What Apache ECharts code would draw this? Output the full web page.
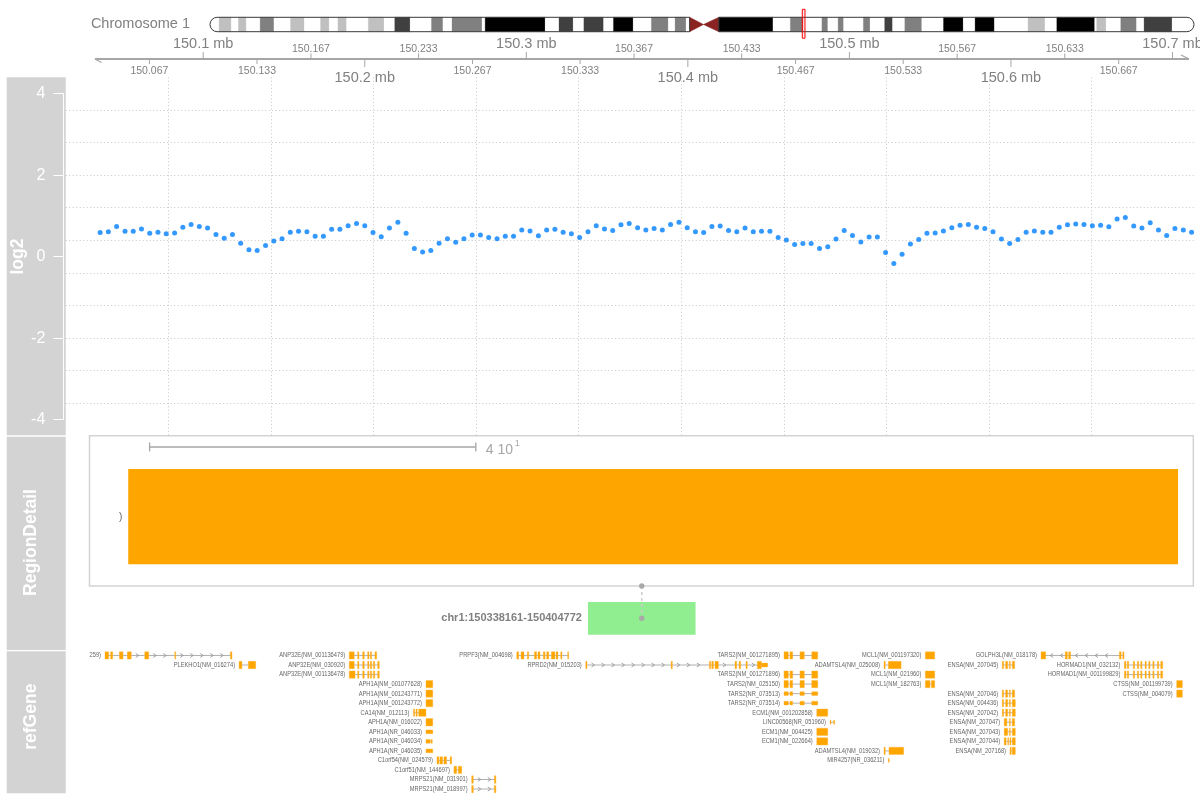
<!DOCTYPE html>
<html><head><meta charset="utf-8">
<script src="https://cdn.jsdelivr.net/npm/echarts@6.0.0/dist/echarts.min.js"></script>
<style>html,body{margin:0;padding:0;background:#fff}#c{width:1200px;height:800px}</style>
</head><body><div id="c"></div>
<script>
var FF = '"Liberation Sans", Arial, sans-serif';

// ---------- ideogram (chr1, Mb) ----------
var CHR_NAME = 'Chromosome 1';
var CHR_LEN = 249.250621;
var BAND_START = [0,2.3,5.4,7.2,9.2,12.7,16.2,20.4,23.9,28.0,30.2,32.4,34.6,40.1,44.1,46.8,50.7,56.1,59.0,61.3,68.9,69.7,84.9,88.4,92.0,94.7,99.7,102.2,107.2,111.8,116.1,117.8,120.6,121.5,125.0,128.9,142.6,147.0,150.3,155.0,156.5,159.1,160.5,165.5,167.2,170.9,172.9,176.0,180.3,185.8,190.8,193.8,198.7,207.2,211.5,214.5,224.1,224.6,227.0,230.7,234.7,236.6,243.7];
var BAND_STAIN = ['gneg','gpos25','gneg','gpos25','gneg','gpos50','gneg','gpos25','gneg','gpos25','gneg','gpos25','gneg','gpos25','gneg','gpos75','gneg','gpos50','gneg','gpos50','gneg','gpos100','gneg','gpos75','gneg','gpos75','gneg','gpos100','gneg','gpos50','gneg','gpos50','gneg','acen','acen','gvar','gneg','gpos50','gneg','gpos50','gneg','gpos50','gneg','gpos50','gneg','gpos75','gneg','gpos50','gneg','gpos100','gneg','gpos100','gneg','gpos25','gneg','gpos100','gneg','gpos25','gneg','gpos50','gneg','gpos75','gneg'];
var STAIN_COLOR = {gneg:'#ffffff', gpos25:'#c0c0c0', gpos50:'#808080', gpos75:'#404040', gpos100:'#000000', gvar:'#000000', acen:'#8b2323'};

// ---------- genome axis (Mb) ----------
var VIEW_START = 150.0330, VIEW_END = 150.7102;
var TICK_POS = [150.0667,150.1,150.1333,150.1667,150.2,150.2333,150.2667,150.3,150.3333,150.3667,150.4,150.4333,150.4667,150.5,150.5333,150.5667,150.6,150.6333,150.6667,150.7];
var TICK_LABELS = ['150.067','150.1 mb','150.133','150.167','150.2 mb','150.233','150.267','150.3 mb','150.333','150.367','150.4 mb','150.433','150.467','150.5 mb','150.533','150.567','150.6 mb','150.633','150.667','150.7 mb'];

// ---------- data track (log2) ----------
var Y_TICKS_MIN = -4, Y_TICKS_MAX = 4, Y_TICK_STEP = 2;
var POS_MB = [150.0362,150.0413,150.0464,150.0516,150.0567,150.0618,150.0669,150.0720,150.0771,150.0823,
150.0874,150.0925,150.0976,150.1027,150.1079,150.1130,150.1181,150.1232,150.1283,150.1334,
150.1386,150.1437,150.1488,150.1539,150.1590,150.1642,150.1693,150.1744,150.1795,150.1846,
150.1897,150.1949,150.2000,150.2051,150.2102,150.2153,150.2205,150.2256,150.2307,150.2358,
150.2409,150.2460,150.2512,150.2563,150.2614,150.2665,150.2716,150.2767,150.2819,150.2870,
150.2921,150.2972,150.3023,150.3075,150.3126,150.3177,150.3228,150.3279,150.3330,150.3382,
150.3433,150.3484,150.3535,150.3586,150.3637,150.3689,150.3740,150.3791,150.3842,150.3893,
150.3945,150.3996,150.4047,150.4098,150.4149,150.4200,150.4252,150.4303,150.4354,150.4405,
150.4456,150.4508,150.4559,150.4610,150.4661,150.4712,150.4763,150.4815,150.4866,150.4917,
150.4968,150.5019,150.5071,150.5122,150.5173,150.5224,150.5275,150.5326,150.5378,150.5429,
150.5480,150.5531,150.5582,150.5634,150.5685,150.5736,150.5787,150.5838,150.5889,150.5941,
150.5992,150.6043,150.6094,150.6145,150.6197,150.6248,150.6299,150.6350,150.6401,150.6452,
150.6504,150.6555,150.6606,150.6657,150.6708,150.6760,150.6811,150.6862,150.6913,150.6964,
150.7015,150.7067,150.7118];
var LOG2 = [0.59,0.61,0.74,0.62,0.62,0.68,0.57,0.60,0.56,0.58,
0.72,0.79,0.74,0.70,0.54,0.45,0.54,0.33,0.17,0.15,
0.27,0.38,0.44,0.60,0.62,0.61,0.50,0.50,0.67,0.67,
0.76,0.81,0.76,0.59,0.49,0.70,0.84,0.57,0.20,0.11,
0.15,0.33,0.44,0.35,0.44,0.53,0.53,0.47,0.44,0.50,
0.50,0.65,0.63,0.51,0.65,0.67,0.60,0.56,0.47,0.61,
0.76,0.68,0.64,0.78,0.81,
0.71,0.65,0.69,0.65,0.79,0.84,0.71,0.61,0.59,0.74,
0.75,0.64,0.61,0.70,0.61,0.62,0.62,0.47,0.41,0.30,
0.32,0.32,0.20,0.24,0.43,0.64,0.52,0.36,0.48,0.48,
0.10,-0.17,0.06,0.31,0.42,0.57,0.58,0.63,0.71,0.77,
0.79,0.72,0.69,0.61,0.43,0.32,0.42,0.60,0.63,0.60,
0.60,0.72,0.78,0.80,0.79,0.76,0.77,0.73,0.92,0.96,
0.75,0.70,0.83,0.65,0.52,0.69,0.65,0.60];

// ---------- region detail ----------
var DETAIL_RANGE = [0, 135.35];
var DETAIL_FEATURE = [4.75, 133.48];
var DETAIL_LABEL = ')';
var SCALE_BAR = [7.37, 47.37];
var SCALE_LABEL = ['4 10', '1'];
var REGION_BP = [150338161, 150404772];

// ---------- refGene (kb) ----------
var GENE_LABELS = ['VPS45(NM_007259)','PLEKHO1(NM_016274)','ANP32E(NM_001136479)','ANP32E(NM_030920)','ANP32E(NM_001136478)','APH1A(NM_001077628)','APH1A(NM_001243771)','APH1A(NM_001243772)','CA14(NM_012113)','APH1A(NM_016022)','APH1A(NR_046033)','APH1A(NR_046034)','APH1A(NR_046035)','C1orf54(NM_024579)','C1orf51(NM_144697)','MRPS21(NM_031901)','MRPS21(NM_018997)',
'PRPF3(NM_004698)','RPRD2(NM_015203)','TARS2(NM_001271895)','TARS2(NM_001271896)','TARS2(NM_025150)','TARS2(NR_073513)','TARS2(NR_073514)','ECM1(NM_001202858)','LINC00568(NR_051960)','ECM1(NM_004425)','ECM1(NM_022664)',
'ADAMTSL4(NM_025008)','ADAMTSL4(NM_019032)','MIR4257(NR_036211)','MCL1(NM_001197320)','MCL1(NM_021960)','MCL1(NM_182763)','GOLPH3L(NM_018178)',
'ENSA(NM_207045)','ENSA(NM_207046)','ENSA(NM_004436)','ENSA(NM_207042)','ENSA(NM_207047)','ENSA(NM_207043)','ENSA(NM_207044)','ENSA(NM_207168)','HORMAD1(NM_032132)','HORMAD1(NM_001199829)','CTSS(NM_001199739)','CTSS(NM_004079)'];
var GENE_ROWS = [1,2,1,2,3,4,5,6,7,8,9,10,11,12,13,14,15, 1,2,1,3,4,5,6,7,8,9,10, 2,11,12, 1,3,4, 1, 2,5,6,7,8,9,10,11, 2,3, 4,5];
var GENE_STRAND = ['+','+','-','-','-','-','-','-','+','-','-','-','-','-','+','+','+', '+','+','+','+','+','+','+','+','-','+','+', '+','+','-', '-','-','-', '-', '-','-','-','-','-','-','-','-', '-','-', '-','-'];
var GENE_NONCODING = [0,0,0,0,0,0,0,0,0,0,1,1,1,0,0,0,0, 0,0,0,0,0,1,1,0,1,0,0, 0,0,1, 0,0,0, 0, 0,0,0,0,0,0,0,0, 0,0, 0,0];
var ANP_A = [[150190.4,150193.5],[150195.6,150196.4],[150198.7,150199.7],[150201.8,150202.6],[150203.4,150204.3],[150206.3,150207.4]];
var ANP_B = [[150190.4,150193.5],[150195.6,150196.4],[150198.7,150199.7],[150201.8,150202.6],[150203.4,150204.3],[150205.3,150206.2],[150208.0,150209.0]];
var APH = [[150237.9,150242.1]];
var TARS = [[150459.5,150462.2],[150463.2,150464.9],[150469.4,150472.1],[150476.7,150480.4]];
var ECM = [[150479.8,150486.6]];
var MCL = [[150547.0,150552.8]];
var ENSA_A = [[150594.6,150595.5],[150596.7,150598.0],[150599.0,150599.6],[150600.8,150602.3]];
var ENSA_B = [[150594.6,150595.5],[150596.7,150598.0],[150599.0,150599.6],[150600.8,150602.7]];
var HORM = [[150670.2,150671.2],[150672.0,150672.9],[150675.7,150676.6],[150678.2,150679.1],[150680.3,150681.1],[150683.0,150683.8],[150685.3,150686.1],[150687.8,150688.6],[150690.6,150691.5],[150692.7,150693.9]];
var CTS = [[150702.6,150706.1]];
var GENE_EXONS = [
 [[150039.2,150041.5],[150042.7,150044.0],[150048.1,150050.4],[150053.0,150055.5],[150063.8,150066.3],[150082.4,150083.0],[150116.8,150117.8]],
 [[150122.2,150124.0],[150127.9,150132.5]],
 ANP_A, ANP_B, [[150190.4,150194.0],[150195.6,150196.4],[150198.7,150199.7],[150201.8,150202.6],[150203.4,150204.3],[150205.3,150206.2],[150208.0,150209.0]],
 APH, APH, APH,
 [[150230.1,150230.9],[150231.7,150232.5],[150233.4,150237.9]],
 APH, APH, [[150237.9,150240.5],[150241.0,150241.8]], APH,
 [[150244.7,150245.9],[150246.5,150248.2],[150249.0,150250.7],[150252.8,150253.8]],
 [[150255.2,150256.9],[150257.9,150260.0]],
 [[150266.2,150267.2],[150280.2,150281.2]],
 [[150266.2,150267.2],[150280.2,150281.2]],
 [[150294.1,150295.3],[150296.7,150298.6],[150300.6,150301.5],[150305.0,150306.4],[150307.2,150308.5],[150310.5,150311.6],[150312.6,150313.9],[150315.5,150317.7],[150318.4,150319.6],[150321.3,150322.1],[150325.6,150326.2]],
 [[150336.8,150337.6],[150389.6,150390.4],[150413.3,150414.1],[150414.8,150415.8],[150416.8,150418.9],[150429.2,150430.2],[150431.7,150432.7],[150436.0,150436.8],[150443.0,150445.5],[150445.5,150449.4,1]],
 TARS, TARS, TARS, TARS, TARS,
 ECM,
 [[150488.0,150488.6],[150490.2,150490.9]],
 ECM, ECM,
 [[150521.4,150522.2],[150524.1,150532.0]],
 [[150521.4,150522.2],[150524.5,150533.6]],
 [[150524.1,150524.7]],
 MCL, MCL, [[150547.0,150549.9],[150550.7,150552.8]],
 [[150618.6,150621.5],[150633.6,150634.9],[150635.7,150636.9],[150667.1,150668.2],[150669.2,150670.0]],
 ENSA_A, ENSA_A, ENSA_B, ENSA_B,
 [[150595.8,150597.5],[150599.0,150599.6],[150600.8,150602.3]],
 [[150595.8,150598.0],[150599.0,150599.6],[150600.8,150602.7]],
 [[150595.8,150597.0],[150598.0,150598.6],[150599.4,150600.0],[150600.8,150602.7]],
 [[150599.4,150600.2],[150600.8,150602.7]],
 HORM, HORM, CTS, CTS
];

// ---------- layout calibration (pixel <-> Mb on the page) ----------
var CAL_MB = [150.1, 150.7], CAL_PX = [203.2, 1172.5];
function mbAt(px){ return CAL_MB[0] + (px - CAL_PX[0]) * (CAL_MB[1]-CAL_MB[0]) / (CAL_PX[1]-CAL_PX[0]); }

var chart = echarts.init(document.getElementById('c'), null, {renderer:'canvas'});

var bandData = BAND_START.map(function(s, i){ return [s, i + 1 < BAND_START.length ? BAND_START[i+1] : CHR_LEN, i]; });
var firstAcen = BAND_STAIN.indexOf('acen'), lastAcen = BAND_STAIN.lastIndexOf('acen');
var cenMid = bandData[firstAcen][1];
var armData = [[0, bandData[firstAcen][0], 0], [bandData[lastAcen][1], CHR_LEN, 1]];

function renderBand(params, api){
  var s = api.value(0), e = api.value(1), k = api.value(2);
  var p0 = api.coord([s, 1]), p1 = api.coord([e, 0]);
  var st = BAND_STAIN[k], col = STAIN_COLOR[st];
  if (st === 'acen') {
    var ym = (p0[1] + p1[1]) / 2;
    var pts = s < cenMid ? [[p0[0], p0[1]], [p0[0], p1[1]], [p1[0], ym]] : [[p1[0], p0[1]], [p1[0], p1[1]], [p0[0], ym]];
    return {type:'polygon', shape:{points:pts}, style:{fill:col, stroke:col, lineWidth:0.5}};
  }
  return {type:'rect', shape:{x:p0[0], y:p0[1], width:p1[0]-p0[0], height:p1[1]-p0[1]}, style:{fill:col, stroke:col, lineWidth:0.3}};
}
function renderArm(params, api){
  var p0 = api.coord([api.value(0), 1]), p1 = api.coord([api.value(1), 0]);
  var h = p1[1] - p0[1], r = h / 2;
  var rr = api.value(2) === 0 ? [r, 0, 0, r] : [0, r, r, 0];
  return {type:'rect', shape:{x:p0[0], y:p0[1], width:p1[0]-p0[0], height:h, r:rr}, style:{fill:null, stroke:'#3a3a3a', lineWidth:1}};
}
function renderViewBox(params, api){
  var p0 = api.coord([api.value(0), 1]), p1 = api.coord([api.value(1), 0]);
  return {type:'rect', shape:{x:p0[0], y:p0[1]-8, width:Math.max(p1[0]-p0[0], 2.5), height:p1[1]-p0[1]+14.5}, style:{fill:'rgba(255,0,0,0.08)', stroke:'#ff0000', lineWidth:1}};
}
function renderAxisLine(params, api){
  var a = api.coord([api.value(0), 0.5]), b = api.coord([api.value(1), 0.5]);
  var y = a[1], c = '#a6a6a6';
  return {type:'group', children:[
    {type:'line', shape:{x1:a[0], y1:y, x2:b[0], y2:y}, style:{stroke:c, lineWidth:2}},
    {type:'line', shape:{x1:a[0], y1:y, x2:a[0]+6.5, y2:y+3.5}, style:{stroke:c, lineWidth:1.2}},
    {type:'line', shape:{x1:b[0], y1:y, x2:b[0]-8, y2:y-4}, style:{stroke:c, lineWidth:1.2}}
  ]};
}
function renderTick(params, api){
  var i = api.value(1);
  var p = api.coord([api.value(0), 0.5]);
  var x = p[0], y = p[1];
  var lab = TICK_LABELS[i], major = lab.indexOf('mb') >= 0, up = (i % 2 === 1);
  var c = '#a6a6a6', tc = '#808080';
  var kids = [];
  if (up) {
    kids.push({type:'line', shape:{x1:x, y1:y-1, x2:x, y2:y-1-(major?6:4.5)}, style:{stroke:c, lineWidth:1}});
    kids.push({type:'text', style:{text:lab, x:x, y:y-(major?15:9.7), align:'center', verticalAlign:'middle', fill:tc, fontSize:major?14.5:10.5, fontFamily:FF}});
  } else {
    kids.push({type:'line', shape:{x1:x, y1:y+1, x2:x, y2:y+1+(major?7:4)}, style:{stroke:c, lineWidth:1}});
    kids.push({type:'text', style:{text:lab, x:x, y:y+(major?18.7:11.7), align:'center', verticalAlign:'middle', fill:tc, fontSize:major?14.5:10.5, fontFamily:FF}});
  }
  return {type:'group', children:kids};
}
function renderDetail(params, api){
  var s = api.coord([api.value(0), 0])[0], e = api.coord([api.value(1), 0])[0];
  var cs = params.coordSys;
  return {type:'group', children:[
    {type:'rect', shape:{x:s, y:cs.y+33.3, width:e-s, height:95.3}, style:{fill:'#FFA500'}},
    {type:'text', style:{text:DETAIL_LABEL, x:s-6, y:cs.y+82, align:'right', verticalAlign:'middle', fill:'#666666', fontSize:10, fontFamily:FF}}
  ]};
}
function renderScaleBar(params, api){
  var s = api.coord([api.value(0), 0])[0], e = api.coord([api.value(1), 0])[0];
  var cs = params.coordSys, y = cs.y + 11.3, c = '#a6a6a6';
  return {type:'group', children:[
    {type:'line', shape:{x1:s, y1:y, x2:e, y2:y}, style:{stroke:c, lineWidth:1.3}},
    {type:'line', shape:{x1:s, y1:y-4.5, x2:s, y2:y+4.5}, style:{stroke:c, lineWidth:1.3}},
    {type:'line', shape:{x1:e, y1:y-4.5, x2:e, y2:y+4.5}, style:{stroke:c, lineWidth:1.3}},
    {type:'text', style:{text:SCALE_LABEL[0], x:e+10, y:y+3, align:'left', verticalAlign:'middle', fill:c, fontSize:14, fontFamily:FF}},
    {type:'text', style:{text:SCALE_LABEL[1], x:e+39, y:y-3.5, align:'left', verticalAlign:'middle', fill:c, fontSize:9, fontFamily:FF}}
  ]};
}
function renderLink(params, api){
  var s = api.coord([api.value(0), 0])[0], e = api.coord([api.value(1), 0])[0];
  var cs = params.coordSys, top = cs.y, mid = (s + e) / 2;
  var label = 'chr1:' + REGION_BP[0] + '-' + REGION_BP[1];
  return {type:'group', children:[
    {type:'rect', shape:{x:s, y:top+16, width:e-s, height:32.7}, style:{fill:'#90EE90'}},
    {type:'line', shape:{x1:mid, y1:top, x2:mid, y2:top+32.3}, style:{stroke:'#cccccc', lineWidth:1.5, lineDash:[3,3]}},
    {type:'circle', shape:{cx:mid, cy:top, r:2.7}, style:{fill:'#a9a9a9'}},
    {type:'circle', shape:{cx:mid, cy:top+32.3, r:2.7}, style:{fill:'#a9a9a9'}},
    {type:'text', style:{text:label, x:s-6, y:top+32.3, align:'right', verticalAlign:'middle', fill:'#808080', fontSize:11, fontWeight:'bold', fontFamily:FF}}
  ]};
}
function renderGene(params, api){
  var i = api.value(0);
  var ex = GENE_EXONS[i], row = GENE_ROWS[i], nc = GENE_NONCODING[i];
  var kids = [];
  var y = api.coord([ex[0][0]/1000, row])[1];
  var xs = ex.map(function(e){ return [api.coord([e[0]/1000, row])[0], api.coord([e[1]/1000, row])[0]]; });
  var x0 = xs[0][0], x1 = xs[xs.length-1][1];
  kids.push({type:'line', shape:{x1:x0, y1:y, x2:x1, y2:y}, style:{stroke:'#b0b0b0', lineWidth:1}});
  var d = GENE_STRAND[i] === '+' ? 1 : -1;
  for (var j = 0; j < xs.length - 1; j++) {
    var a = xs[j][1], b = xs[j+1][0];
    if (b - a < 8) continue;
    for (var ax = a + 6; ax < b - 3; ax += 10) {
      kids.push({type:'polyline', shape:{points:[[ax-1.5*d, y-2], [ax+1.5*d, y], [ax-1.5*d, y+2]]}, style:{stroke:'#9a9a9a', fill:null, lineWidth:0.9}});
    }
  }
  xs.forEach(function(p, j){
    var hh = (nc || ex[j][2]) ? 3.8 : 7.3;
    kids.push({type:'rect', shape:{x:p[0], y:y-hh/2, width:Math.max(p[1]-p[0], 1), height:hh}, style:{fill:'#FFA500', stroke:'#FFB940', lineWidth:0.4}});
  });
  kids.push({type:'text', x:x0-4, y:y, scaleX:0.83, style:{text:GENE_LABELS[i], x:0, y:0, align:'right', verticalAlign:'middle', fill:'#666666', fontSize:6.9, fontFamily:FF}});
  return {type:'group', children:kids};
}

var hidden = {show:false};
var dotted = {show:true, showMinLine:false, showMaxLine:false, lineStyle:{color:'#c6c6c6', type:[1, 2.5], width:1}};

var option = {
  animation:false,
  backgroundColor:'#ffffff',
  textStyle:{fontFamily:FF},
  grid:[
    {left:210, right:6, top:17.3, height:14.4},
    {left:0, right:0, top:39, height:40},
    {left:63.3, width:1, top:93.6, height:326},
    {left:65.7, right:5.7, top:77.3, height:358.6},
    {left:89.5, right:6.7, top:435.7, height:150.3, show:true, borderColor:'#d3d3d3', borderWidth:1.5},
    {left:65.7, right:5.7, top:586, height:52},
    {left:89, right:0, top:650.7, height:144.05}
  ],
  xAxis:[
    {gridIndex:0, type:'value', min:0, max:CHR_LEN, show:false},
    {gridIndex:1, type:'value', min:mbAt(0), max:mbAt(1200), show:false},
    {gridIndex:2, type:'value', min:0, max:1, show:false},
    {gridIndex:3, type:'value', min:mbAt(65.7), max:mbAt(1194.3), show:false},
    {gridIndex:3, type:'value', min:0, max:11, interval:1, position:'top', axisLine:hidden, axisTick:hidden, axisLabel:hidden, splitLine:dotted},
    {gridIndex:4, type:'value', min:DETAIL_RANGE[0], max:DETAIL_RANGE[1], show:false},
    {gridIndex:5, type:'value', min:mbAt(65.7), max:mbAt(1194.3), show:false},
    {gridIndex:6, type:'value', min:mbAt(89), max:mbAt(1200), show:false}
  ],
  yAxis:[
    {gridIndex:0, type:'value', min:0, max:1, show:false},
    {gridIndex:1, type:'value', min:0, max:1, show:false},
    {gridIndex:2, type:'value', min:Y_TICKS_MIN, max:Y_TICKS_MAX, interval:Y_TICK_STEP, z:10,
      axisLine:{show:true, lineStyle:{color:'#ffffff', width:1}},
      axisTick:{show:true, length:10, lineStyle:{color:'#ffffff', width:1}},
      axisLabel:{color:'#ffffff', fontSize:16, margin:18, fontFamily:FF},
      splitLine:hidden},
    {gridIndex:3, type:'value', min:-4.4, max:4.4, show:false},
    {gridIndex:3, type:'value', min:0, max:11, interval:1, position:'right', axisLine:hidden, axisTick:hidden, axisLabel:hidden, splitLine:dotted},
    {gridIndex:4, type:'value', min:0, max:1, show:false},
    {gridIndex:5, type:'value', min:0, max:1, show:false},
    {gridIndex:6, type:'value', min:0.5, max:15.6, inverse:true, show:false}
  ],
  graphic:{elements:[
    {type:'rect', z:-10, shape:{x:6.7, y:77.3, width:59, height:358}, style:{fill:'#d3d3d3'}},
    {type:'rect', z:-10, shape:{x:6.7, y:436.7, width:59, height:213.3}, style:{fill:'#d3d3d3'}},
    {type:'rect', z:-10, shape:{x:6.7, y:651.3, width:59, height:142}, style:{fill:'#d3d3d3'}},
    {type:'text', z:100, x:18, y:256.6, rotation:Math.PI/2, style:{text:'log2', fill:'#ffffff', fontSize:17.5, fontWeight:'bold', fontFamily:FF, align:'center', verticalAlign:'middle'}},
    {type:'text', z:100, x:30.7, y:542.5, rotation:Math.PI/2, style:{text:'RegionDetail', fill:'#ffffff', fontSize:17.5, fontWeight:'bold', fontFamily:FF, align:'center', verticalAlign:'middle'}},
    {type:'text', z:100, x:30.7, y:716.7, rotation:Math.PI/2, style:{text:'refGene', fill:'#ffffff', fontSize:17.5, fontWeight:'bold', fontFamily:FF, align:'center', verticalAlign:'middle'}},
    {type:'text', z:100, x:190, y:24, style:{text:CHR_NAME, fill:'#808080', fontSize:14.5, fontFamily:FF, align:'right', verticalAlign:'middle'}}
  ]},
  series:[
    {type:'custom', name:'bands', xAxisIndex:0, yAxisIndex:0, renderItem:renderBand, data:bandData, encode:{x:[0,1]}, silent:true},
    {type:'custom', name:'arms', xAxisIndex:0, yAxisIndex:0, renderItem:renderArm, data:armData, encode:{x:[0,1]}, silent:true, z:3},
    {type:'custom', name:'view', xAxisIndex:0, yAxisIndex:0, renderItem:renderViewBox, data:[[VIEW_START, VIEW_END]], encode:{x:[0,1]}, silent:true, z:4},
    {type:'custom', name:'axisline', xAxisIndex:1, yAxisIndex:1, renderItem:renderAxisLine, data:[[VIEW_START, VIEW_END]], encode:{x:[0,1]}, silent:true},
    {type:'custom', name:'ticks', xAxisIndex:1, yAxisIndex:1, renderItem:renderTick, data:TICK_POS.map(function(p,i){return [p,i];}), encode:{x:0}, silent:true},
    {type:'scatter', name:'log2', xAxisIndex:3, yAxisIndex:3, data:POS_MB.map(function(p,i){return [p, LOG2[i]];}), symbol:'circle', symbolSize:5, itemStyle:{color:'#0080ff'}, silent:true, z:5},
    {type:'custom', name:'detail', xAxisIndex:5, yAxisIndex:5, renderItem:renderDetail, data:[DETAIL_FEATURE], encode:{x:[0,1]}, silent:true},
    {type:'custom', name:'scalebar', xAxisIndex:5, yAxisIndex:5, renderItem:renderScaleBar, data:[SCALE_BAR], encode:{x:[0,1]}, silent:true},
    {type:'custom', name:'link', xAxisIndex:6, yAxisIndex:6, renderItem:renderLink, data:[[REGION_BP[0]/1e6, REGION_BP[1]/1e6]], encode:{x:[0,1]}, silent:true, z:6},
    {type:'custom', name:'genes', xAxisIndex:7, yAxisIndex:7, renderItem:renderGene, clip:true, data:GENE_LABELS.map(function(l,i){return [i];}), encode:{x:0}, silent:true}
  ]
};
chart.setOption(option);
</script></body></html>
